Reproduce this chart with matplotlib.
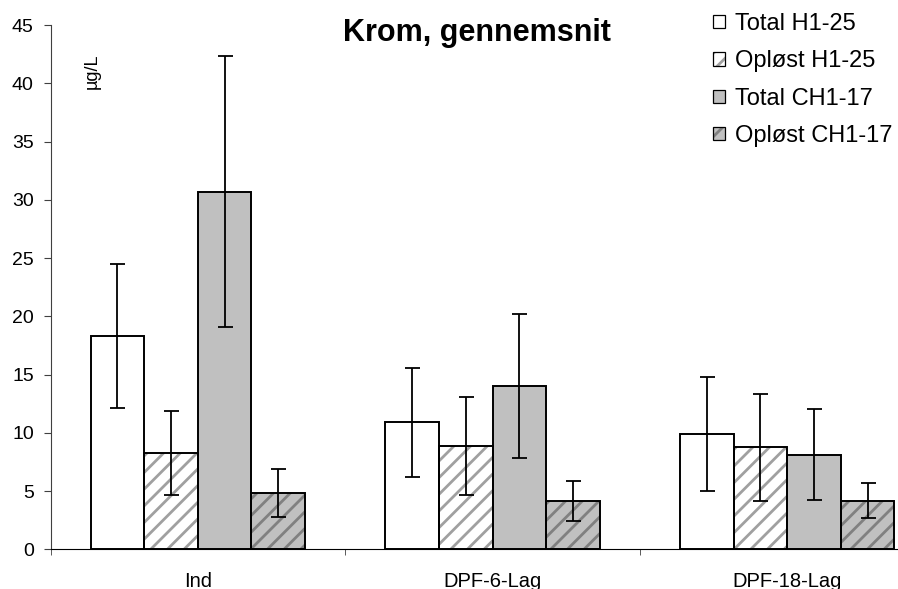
import matplotlib
matplotlib.use("Agg")
import matplotlib.pyplot as plt
import numpy as np
from matplotlib.patches import Patch
from matplotlib.legend_handler import HandlerTuple

categories = ["Ind", "DPF-6-Lag", "DPF-18-Lag"]
series = ["Total H1-25", "Opløst H1-25", "Total CH1-17", "Opløst CH1-17"]
total_h = [18.3, 10.9, 9.9]
total_h_err = [6.15, 4.7, 4.9]
oplost_h = [8.25, 8.9, 8.75]
oplost_h_err = [3.6, 4.2, 4.6]
total_ch = [30.7, 14.0, 8.1]
total_ch_err = [11.65, 6.2, 3.9]
oplost_ch = [4.8, 4.15, 4.15]
oplost_ch_err = [2.05, 1.7, 1.5]
yticks = [0, 5, 10, 15, 20, 25, 30, 35, 40, 45]

plt.rcParams['font.family'] = ['Liberation Sans', 'DejaVu Sans']
plt.rcParams['hatch.linewidth'] = 2.0

fig = plt.figure(figsize=(8.98, 5.89), dpi=100)
ax = fig.add_axes([50.5/898, 1-549.3/589, 884/898, 524.3/589])

values = [total_h, oplost_h, total_ch, oplost_ch]
errs = [total_h_err, oplost_h_err, total_ch_err, oplost_ch_err]
faces = ["white", "white", "#c0c0c0", "#c0c0c0"]
hatches = [None, "//", None, "//"]
hcols = [None, "#a0a0a0", None, "#808080"]

x = np.arange(len(categories))
w = 0.182
handles = []
for i in range(4):
    pos = x + (i - 1.5) * w
    if hatches[i]:
        ax.bar(pos, values[i], w, color=faces[i], edgecolor=hcols[i], hatch=hatches[i], linewidth=0, zorder=2)
        h1 = Patch(facecolor=faces[i], edgecolor=hcols[i], hatch=hatches[i], linewidth=0)
    else:
        h1 = Patch(facecolor=faces[i], linewidth=0)
        ax.bar(pos, values[i], w, color=faces[i], linewidth=0, zorder=2)
    ax.bar(pos, values[i], w, fill=False, edgecolor="black", linewidth=1.4, zorder=3)
    ax.errorbar(pos, values[i], yerr=errs[i], fmt="none", ecolor="black", elinewidth=1.3,
                capsize=5.4, capthick=1.3, zorder=4)
    h2 = Patch(fill=False, edgecolor="black", linewidth=0.9)
    handles.append((h1, h2))

ax.set_xlim(-0.5, 2.5)
ax.set_ylim(0, 45)
ax.set_yticks(yticks)
ax.set_xticks(x)
ax.set_xticklabels(categories, fontsize=14.5)
ax.set_xticks([-0.5, 0.5, 1.5, 2.5], minor=True)
ax.tick_params(axis='x', which='major', length=0, pad=16)
ax.tick_params(axis='x', which='minor', length=4, direction='out', color='#404040')
ax.tick_params(axis='y', labelsize=14, length=5, pad=7, color='#404040')
for s in ['top', 'right']:
    ax.spines[s].set_visible(False)
ax.spines['left'].set_color('#404040')
ax.spines['bottom'].set_color('black')

ax.text((92-50.5)/884*3 - 0.5, 45 - (71-25)/11.65, "µg/L",
        rotation=90, fontsize=13, ha='center', va='center')

fig.text(477/898, 1-33/589, "Krom, gennemsnit", fontsize=22, fontweight='bold',
         ha='center', va='center')

fig.legend(handles, series, handler_map={tuple: HandlerTuple(ndivide=1)},
           loc='upper left', bbox_to_anchor=(700/898, 1.0), frameon=False,
           fontsize=17, handlelength=0.5, handleheight=0.5, handletextpad=0.45,
           labelspacing=0.65, borderaxespad=0.15)

fig.savefig("out.png", dpi=100)
